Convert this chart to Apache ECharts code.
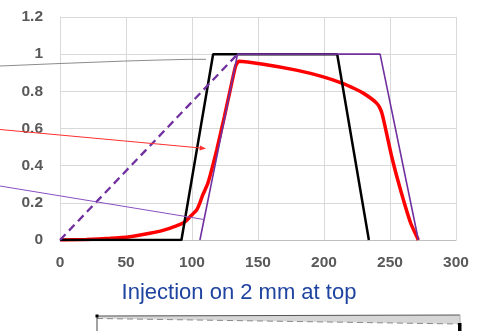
<!DOCTYPE html>
<html>
<head>
<meta charset="utf-8">
<script src="https://cdn.jsdelivr.net/npm/echarts@6/dist/echarts.min.js"></script>
<style>
html,body{margin:0;padding:0;background:#fff;}
#chart{width:478px;height:331px;}
</style>
</head>
<body>
<div id="chart"></div>
<script>
// ---- data ----
var titleText = 'Injection on 2 mm at top';
var xTicks = [0, 50, 100, 150, 200, 250, 300];
var yTicks = [0, 0.2, 0.4, 0.6, 0.8, 1, 1.2];

var blackX = [0, 92, 116, 210, 234];
var blackY = [0, 0, 1, 1, 0];

var purpleX = [106, 134.5, 242.5, 271.5];
var purpleY = [0, 1, 1, 0];

var dashedX = [0, 134.5];
var dashedY = [0, 1];

var redX = [0, 20, 38, 53, 68, 76, 83, 91, 95, 98.5, 103.5, 106, 108, 112, 118.7, 124.5, 130, 133, 135.5, 154, 179, 199.5, 214.6, 223, 230, 236, 240, 242, 244, 246, 251.3, 258, 265.7, 271.5];
var redY = [0, 0.003, 0.009, 0.018, 0.036, 0.048, 0.063, 0.084, 0.1, 0.125, 0.161, 0.2, 0.24, 0.305, 0.484, 0.663, 0.842, 0.935, 0.962, 0.946, 0.914, 0.878, 0.842, 0.815, 0.789, 0.76, 0.735, 0.715, 0.68, 0.62, 0.448, 0.269, 0.09, 0];

function pairs(xs, ys) { return xs.map(function (x, i) { return [x, ys[i]]; }); }

var chart = echarts.init(document.getElementById('chart'), null, {renderer: 'canvas'});
var labelStyle = {color: '#595959', fontWeight: 'bold', fontSize: 15.5, fontFamily: 'Liberation Sans, Arial, sans-serif'};

var option = {
  animation: false,
  backgroundColor: '#ffffff',
  grid: {left: 60, right: 22, top: 17, bottom: 91, containLabel: false},
  xAxis: {
    type: 'value', min: xTicks[0], max: xTicks[xTicks.length - 1], interval: xTicks[1] - xTicks[0],
    axisLine: {show: true, lineStyle: {color: '#bfbfbf', width: 1}},
    axisTick: {show: false},
    splitLine: {show: true, lineStyle: {color: '#d9d9d9', width: 1}},
    axisLabel: Object.assign({margin: 15}, labelStyle)
  },
  yAxis: {
    type: 'value', min: yTicks[0], max: yTicks[yTicks.length - 1], interval: 0.2,
    axisLine: {show: true, lineStyle: {color: '#d9d9d9', width: 1}},
    axisTick: {show: false},
    splitLine: {show: true, lineStyle: {color: '#d9d9d9', width: 1}},
    axisLabel: Object.assign({margin: 17, formatter: function (v) { return String(Math.round(v * 10) / 10); }}, labelStyle)
  },
  series: [
    {type: 'line', data: pairs(redX, redY), symbol: 'none', smooth: 0.15, z: 2,
     lineStyle: {color: '#ff0000', width: 3.5}},
    {type: 'line', data: pairs(blackX, blackY), symbol: 'none', z: 3,
     lineStyle: {color: '#000000', width: 2.5}},
    {type: 'line', data: pairs(purpleX, purpleY), symbol: 'none', z: 4,
     lineStyle: {color: '#7030a0', width: 1.6}},
    {type: 'line', data: pairs(dashedX, dashedY), symbol: 'none', z: 4,
     lineStyle: {color: '#7030a0', width: 2.3, type: [8, 5]}}
  ],
  graphic: [
    {type: 'text', left: 'center', top: 282, z: 10,
     style: {text: titleText, fill: '#1f44a0', font: '22px "Liberation Sans", Arial, sans-serif'}},
    // callout lines
    {type: 'polyline', z: 10, shape: {points: [[0, 66], [60, 63.5], [126, 61], [160, 60], [190, 59.3], [206, 59.3]]},
     style: {stroke: '#8c8c8c', lineWidth: 1, fill: null}},
    {type: 'line', z: 10, shape: {x1: 0, y1: 129.5, x2: 203, y2: 148.2},
     style: {stroke: '#ff3030', lineWidth: 1}},
    {type: 'polygon', z: 10, shape: {points: [[206, 148.5], [200, 145.5], [199.5, 150.5]]},
     style: {fill: '#ff3030'}},
    {type: 'line', z: 10, shape: {x1: 0, y1: 186, x2: 204, y2: 219.5},
     style: {stroke: '#8a50c0', lineWidth: 1}},
    // bottom sketch
    {type: 'polygon', z: 10, shape: {points: [[97, 316], [460, 315], [460, 324], [97, 318.5]]},
     style: {fill: '#d6d6d6', stroke: null}},
    {type: 'line', z: 11, shape: {x1: 97, y1: 316, x2: 460, y2: 315}, style: {stroke: '#555555', lineWidth: 1}},
    {type: 'line', z: 11, shape: {x1: 97, y1: 318.5, x2: 460, y2: 324}, style: {stroke: '#8a8a8a', lineWidth: 1, lineDash: [6, 4]}},
    {type: 'line', z: 11, shape: {x1: 97, y1: 316, x2: 97, y2: 331}, style: {stroke: '#444444', lineWidth: 1}},
    {type: 'line', z: 11, shape: {x1: 460, y1: 315, x2: 460, y2: 331}, style: {stroke: '#b0b0b0', lineWidth: 1}},
    {type: 'rect', z: 12, shape: {x: 95.5, y: 314.5, width: 3, height: 3}, style: {fill: '#000000'}},
    {type: 'rect', z: 12, shape: {x: 458, y: 323, width: 3.5, height: 8}, style: {fill: '#000000'}}
  ]
};
chart.setOption(option);
</script>
</body>
</html>
